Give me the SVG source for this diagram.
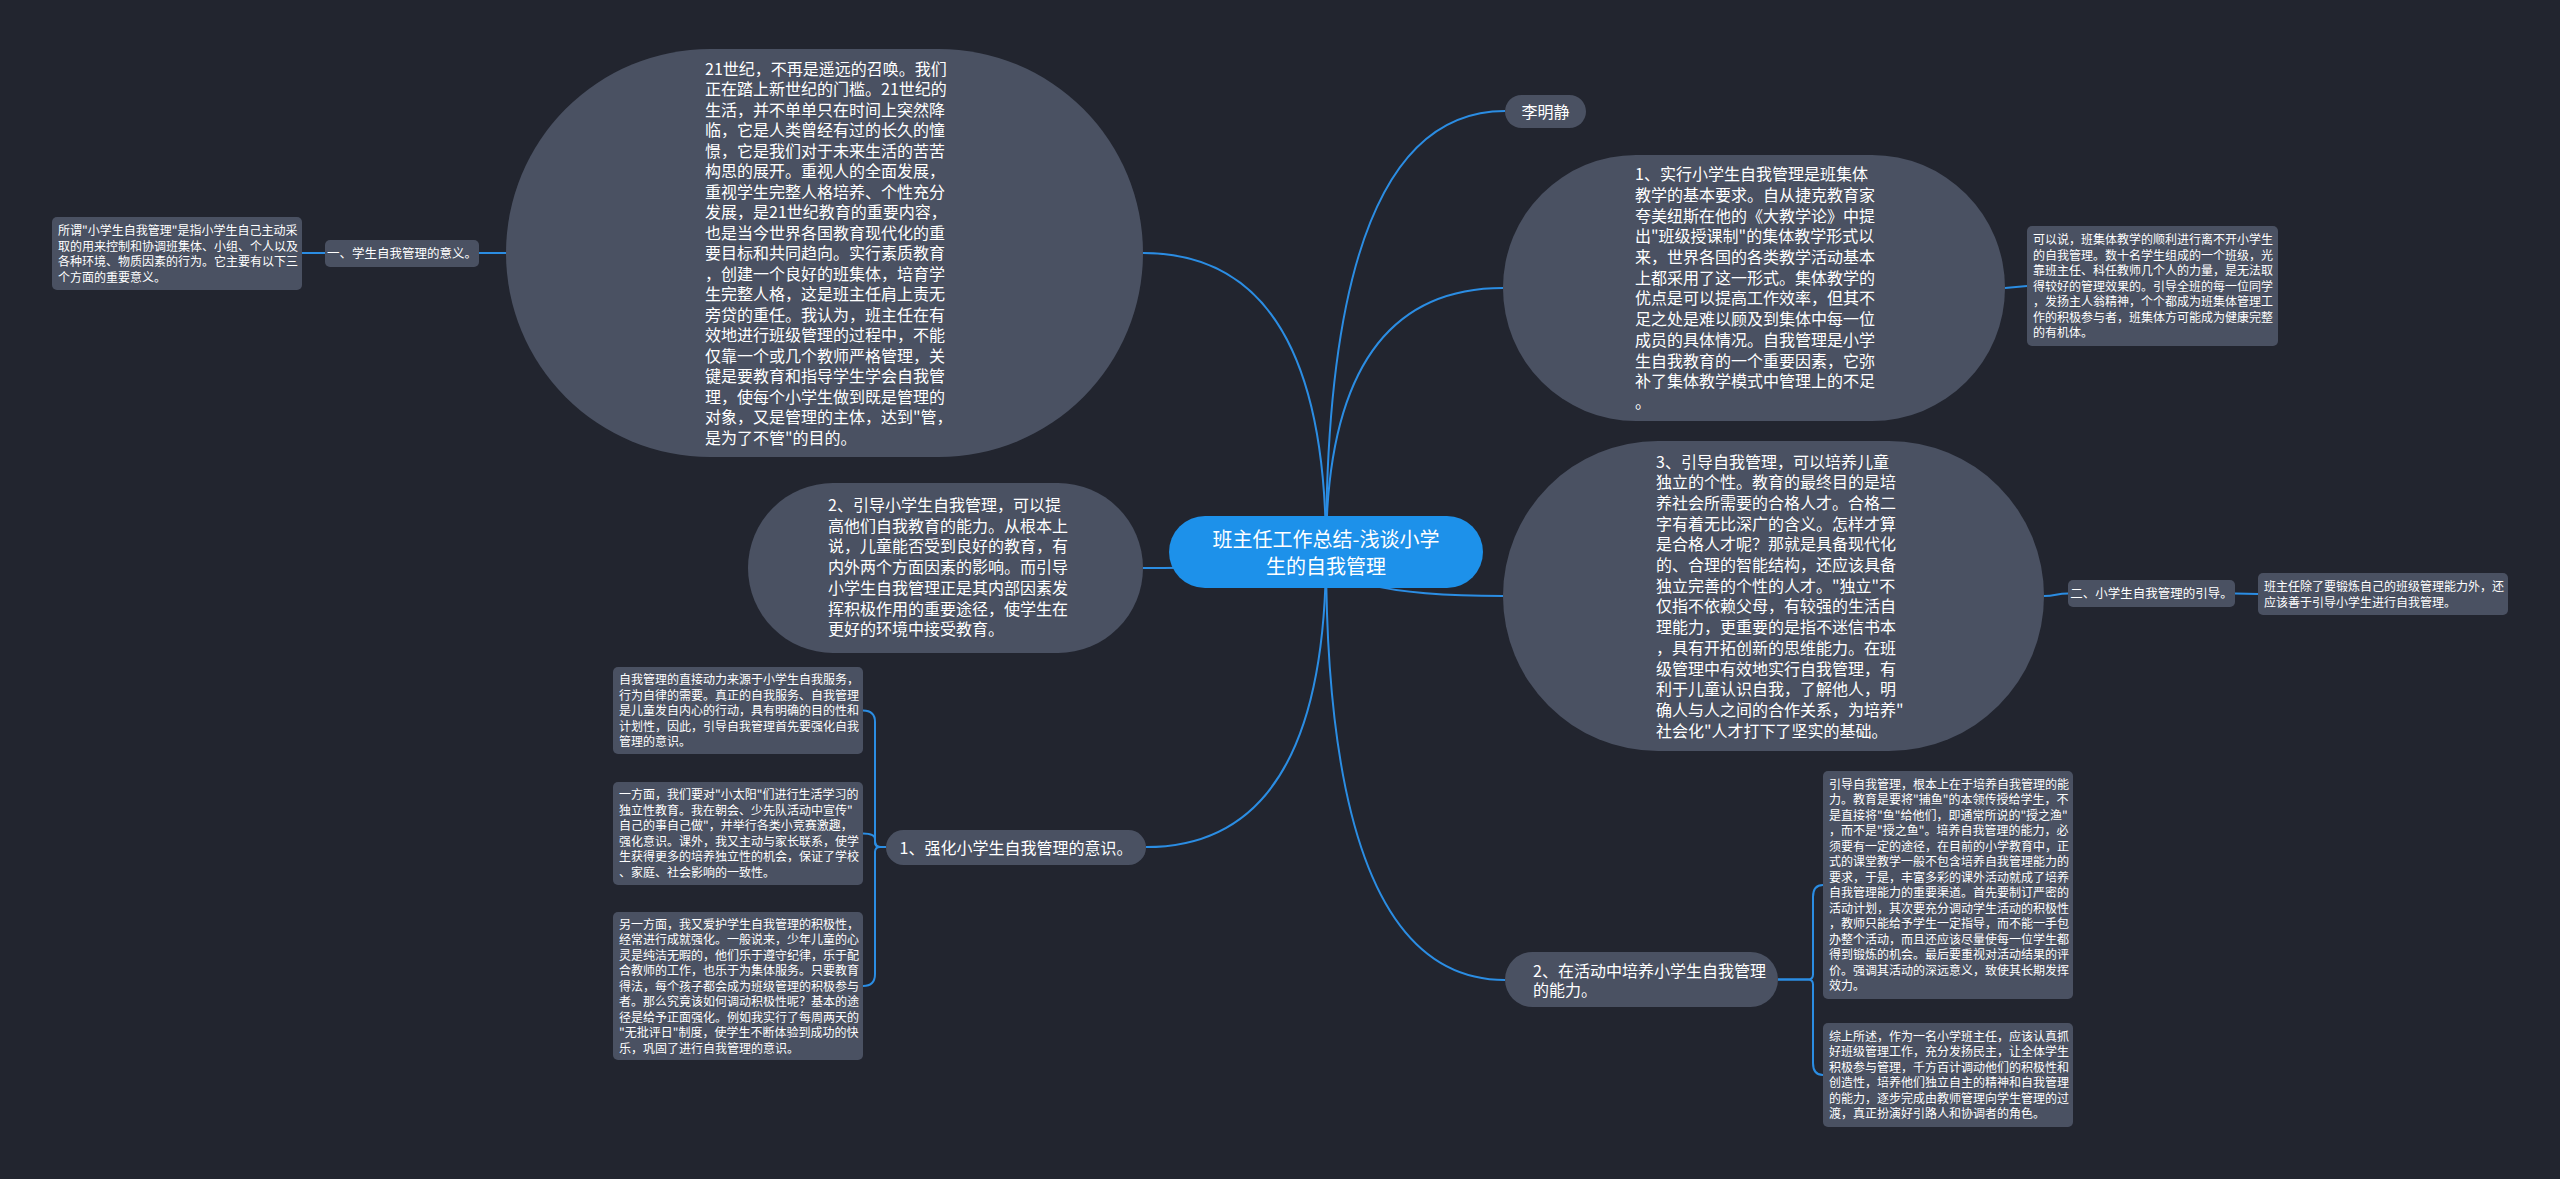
<svg xmlns="http://www.w3.org/2000/svg" width="2560" height="1179" viewBox="0 0 2560 1179">
<style>
text{font-family:"Noto Sans CJK SC","Noto Sans",sans-serif;fill:#ffffff}
.b{font-size:16px}
.s{font-size:12px}
.l{font-size:12.5px}
.c{font-size:20px}
.n{fill:#4a5162}
.conn path{fill:none;stroke:#2b8de3;stroke-width:2}
</style>
<rect width="2560" height="1179" fill="#22252f"/>
<g class="conn">
<path d="M1326,552 Q1326,111 1505,111"/>
<path d="M1326,552 Q1326,288 1503,288"/>
<path d="M1326,552 Q1326,596 1503,596"/>
<path d="M1326,552 Q1326,980 1505,980"/>
<path d="M1326,552 Q1326,847 1146,847"/>
<path d="M1326,552 Q1326,568 1143,568"/>
<path d="M1326,552 Q1326,253 1143,253"/>
<path d="M2005,288 L2027,286"/>
<path d="M2044,596 C2056,596 2056,593.5 2068,593.5"/>
<path d="M2235,593.5 L2258,594"/>
<path d="M506,253 L479,253"/>
<path d="M325,253 L302,253"/>
<path d="M886,847 H880 Q875,847 875,842 V722 Q875,710.5 863,710.5"/>
<path d="M886,847 H881 Q875,847 875,841 V839 Q875,833.5 863,833.5"/>
<path d="M886,847 H880 Q875,847 875,852 V974 Q875,986 863,986"/>
<path d="M1778,979.5 H1808 Q1813,979.5 1813,974.5 V897 Q1813,885 1823,885"/>
<path d="M1778,979.5 H1808 Q1813,979.5 1813,984.5 V1063 Q1813,1075 1823,1075"/>
</g>
<g id="center">
<rect x="1169" y="516" width="314" height="72" rx="36" fill="#1d91ea"/>
<text class="c" text-anchor="middle"><tspan x="1326" y="547">班主任工作总结-浅谈小学</tspan><tspan x="1326" y="574">生的自我管理</tspan></text>
</g>
<g id="n-lmj">
<rect class="n" x="1505" y="95" width="81" height="33" rx="16.5"/>
<text class="b" text-anchor="middle" x="1545.5" y="117.5">李明静</text>
</g>
<g id="n-21c">
<rect class="n" x="506" y="49" width="637" height="408" rx="204"/>
<text class="b"><tspan x="705" y="74.5">21世纪，不再是遥远的召唤。我们</tspan><tspan x="705" dy="20.5">正在踏上新世纪的门槛。21世纪的</tspan><tspan x="705" dy="20.5">生活，并不单单只在时间上突然降</tspan><tspan x="705" dy="20.5">临，它是人类曾经有过的长久的憧</tspan><tspan x="705" dy="20.5">憬，它是我们对于未来生活的苦苦</tspan><tspan x="705" dy="20.5">构思的展开。重视人的全面发展，</tspan><tspan x="705" dy="20.5">重视学生完整人格培养、个性充分</tspan><tspan x="705" dy="20.5">发展，是21世纪教育的重要内容，</tspan><tspan x="705" dy="20.5">也是当今世界各国教育现代化的重</tspan><tspan x="705" dy="20.5">要目标和共同趋向。实行素质教育</tspan><tspan x="705" dy="20.5">，创建一个良好的班集体，培育学</tspan><tspan x="705" dy="20.5">生完整人格，这是班主任肩上责无</tspan><tspan x="705" dy="20.5">旁贷的重任。我认为，班主任在有</tspan><tspan x="705" dy="20.5">效地进行班级管理的过程中，不能</tspan><tspan x="705" dy="20.5">仅靠一个或几个教师严格管理，关</tspan><tspan x="705" dy="20.5">键是要教育和指导学生学会自我管</tspan><tspan x="705" dy="20.5">理，使每个小学生做到既是管理的</tspan><tspan x="705" dy="20.5">对象，又是管理的主体，达到"管，</tspan><tspan x="705" dy="20.5">是为了不管"的目的。</tspan></text>
</g>
<g id="n-yi">
<rect class="n" x="325" y="240" width="154" height="27" rx="5"/>
<text class="l" text-anchor="middle" x="402" y="258">一、学生自我管理的意义。</text>
</g>
<g id="n-suowei">
<rect class="n" x="52" y="217" width="250" height="73" rx="5"/>
<text class="s"><tspan x="58" y="235">所谓"小学生自我管理"是指小学生自己主动采</tspan><tspan x="58" dy="15.5">取的用来控制和协调班集体、小组、个人以及</tspan><tspan x="58" dy="15.5">各种环境、物质因素的行为。它主要有以下三</tspan><tspan x="58" dy="15.5">个方面的重要意义。</tspan></text>
</g>
<g id="n-yindao2">
<rect class="n" x="748" y="483" width="395" height="170" rx="85"/>
<text class="b"><tspan x="828" y="511">2、引导小学生自我管理，可以提</tspan><tspan x="828" dy="20.7">高他们自我教育的能力。从根本上</tspan><tspan x="828" dy="20.7">说，儿童能否受到良好的教育，有</tspan><tspan x="828" dy="20.7">内外两个方面因素的影响。而引导</tspan><tspan x="828" dy="20.7">小学生自我管理正是其内部因素发</tspan><tspan x="828" dy="20.7">挥积极作用的重要途径，使学生在</tspan><tspan x="828" dy="20.7">更好的环境中接受教育。</tspan></text>
</g>
<g id="n-qianghua">
<rect class="n" x="886" y="830" width="260" height="35" rx="17.5"/>
<text class="b" text-anchor="middle" x="1016" y="853.5">1、强化小学生自我管理的意识。</text>
</g>
<g id="n-a">
<rect class="n" x="613" y="667" width="250" height="87" rx="5"/>
<text class="s"><tspan x="619" y="684">自我管理的直接动力来源于小学生自我服务，</tspan><tspan x="619" dy="15.5">行为自律的需要。真正的自我服务、自我管理</tspan><tspan x="619" dy="15.5">是儿童发自内心的行动，具有明确的目的性和</tspan><tspan x="619" dy="15.5">计划性，因此，引导自我管理首先要强化自我</tspan><tspan x="619" dy="15.5">管理的意识。</tspan></text>
</g>
<g id="n-b">
<rect class="n" x="613" y="782" width="250" height="103" rx="5"/>
<text class="s"><tspan x="619" y="799.4">一方面，我们要对"小太阳"们进行生活学习的</tspan><tspan x="619" dy="15.5">独立性教育。我在朝会、少先队活动中宣传"</tspan><tspan x="619" dy="15.5">自己的事自己做"，并举行各类小竞赛激趣，</tspan><tspan x="619" dy="15.5">强化意识。课外，我又主动与家长联系，使学</tspan><tspan x="619" dy="15.5">生获得更多的培养独立性的机会，保证了学校</tspan><tspan x="619" dy="15.5">、家庭、社会影响的一致性。</tspan></text>
</g>
<g id="n-c">
<rect class="n" x="613" y="912" width="250" height="148" rx="5"/>
<text class="s"><tspan x="619" y="928.6">另一方面，我又爱护学生自我管理的积极性，</tspan><tspan x="619" dy="15.5">经常进行成就强化。一般说来，少年儿童的心</tspan><tspan x="619" dy="15.5">灵是纯洁无暇的，他们乐于遵守纪律，乐于配</tspan><tspan x="619" dy="15.5">合教师的工作，也乐于为集体服务。只要教育</tspan><tspan x="619" dy="15.5">得法，每个孩子都会成为班级管理的积极参与</tspan><tspan x="619" dy="15.5">者。那么究竟该如何调动积极性呢？基本的途</tspan><tspan x="619" dy="15.5">径是给予正面强化。例如我实行了每周两天的</tspan><tspan x="619" dy="15.5">"无批评日"制度，使学生不断体验到成功的快</tspan><tspan x="619" dy="15.5">乐，巩固了进行自我管理的意识。</tspan></text>
</g>
<g id="n-shixing1">
<rect class="n" x="1503" y="155" width="502" height="266" rx="133"/>
<text class="b"><tspan x="1635" y="180.2">1、实行小学生自我管理是班集体</tspan><tspan x="1635" dy="20.7">教学的基本要求。自从捷克教育家</tspan><tspan x="1635" dy="20.7">夸美纽斯在他的《大教学论》中提</tspan><tspan x="1635" dy="20.7">出"班级授课制"的集体教学形式以</tspan><tspan x="1635" dy="20.7">来，世界各国的各类教学活动基本</tspan><tspan x="1635" dy="20.7">上都采用了这一形式。集体教学的</tspan><tspan x="1635" dy="20.7">优点是可以提高工作效率，但其不</tspan><tspan x="1635" dy="20.7">足之处是难以顾及到集体中每一位</tspan><tspan x="1635" dy="20.7">成员的具体情况。自我管理是小学</tspan><tspan x="1635" dy="20.7">生自我教育的一个重要因素，它弥</tspan><tspan x="1635" dy="20.7">补了集体教学模式中管理上的不足</tspan><tspan x="1635" dy="20.7">。</tspan></text>
</g>
<g id="n-keyishuo">
<rect class="n" x="2027" y="226" width="251" height="120" rx="5"/>
<text class="s"><tspan x="2033" y="244.1">可以说，班集体教学的顺利进行离不开小学生</tspan><tspan x="2033" dy="15.5">的自我管理。数十名学生组成的一个班级，光</tspan><tspan x="2033" dy="15.5">靠班主任、科任教师几个人的力量，是无法取</tspan><tspan x="2033" dy="15.5">得较好的管理效果的。引导全班的每一位同学</tspan><tspan x="2033" dy="15.5">，发扬主人翁精神，个个都成为班集体管理工</tspan><tspan x="2033" dy="15.5">作的积极参与者，班集体方可能成为健康完整</tspan><tspan x="2033" dy="15.5">的有机体。</tspan></text>
</g>
<g id="n-yindao3">
<rect class="n" x="1503" y="441" width="541" height="310" rx="155"/>
<text class="b"><tspan x="1656" y="467.5">3、引导自我管理，可以培养儿童</tspan><tspan x="1656" dy="20.7">独立的个性。教育的最终目的是培</tspan><tspan x="1656" dy="20.7">养社会所需要的合格人才。合格二</tspan><tspan x="1656" dy="20.7">字有着无比深广的含义。怎样才算</tspan><tspan x="1656" dy="20.7">是合格人才呢？那就是具备现代化</tspan><tspan x="1656" dy="20.7">的、合理的智能结构，还应该具备</tspan><tspan x="1656" dy="20.7">独立完善的个性的人才。"独立"不</tspan><tspan x="1656" dy="20.7">仅指不依赖父母，有较强的生活自</tspan><tspan x="1656" dy="20.7">理能力，更重要的是指不迷信书本</tspan><tspan x="1656" dy="20.7">，具有开拓创新的思维能力。在班</tspan><tspan x="1656" dy="20.7">级管理中有效地实行自我管理，有</tspan><tspan x="1656" dy="20.7">利于儿童认识自我，了解他人，明</tspan><tspan x="1656" dy="20.7">确人与人之间的合作关系，为培养"</tspan><tspan x="1656" dy="20.7">社会化"人才打下了坚实的基础。</tspan></text>
</g>
<g id="n-er">
<rect class="n" x="2068" y="580" width="167" height="27" rx="5"/>
<text class="l" text-anchor="middle" x="2151.5" y="598">二、小学生自我管理的引导。</text>
</g>
<g id="n-bzr">
<rect class="n" x="2258" y="573" width="250" height="42" rx="5"/>
<text class="s"><tspan x="2264" y="591">班主任除了要锻炼自己的班级管理能力外，还</tspan><tspan x="2264" dy="15.5">应该善于引导小学生进行自我管理。</tspan></text>
</g>
<g id="n-huodong">
<rect class="n" x="1505" y="952" width="273" height="55" rx="27.5"/>
<text class="b"><tspan x="1533" y="977">2、在活动中培养小学生自我管理</tspan><tspan x="1533" dy="19">的能力。</tspan></text>
</g>
<g id="n-d">
<rect class="n" x="1823" y="771" width="250" height="228" rx="5"/>
<text class="s"><tspan x="1829" y="788.9">引导自我管理，根本上在于培养自我管理的能</tspan><tspan x="1829" dy="15.5">力。教育是要将"捕鱼"的本领传授给学生，不</tspan><tspan x="1829" dy="15.5">是直接将"鱼"给他们，即通常所说的"授之渔"</tspan><tspan x="1829" dy="15.5">，而不是"授之鱼"。培养自我管理的能力，必</tspan><tspan x="1829" dy="15.5">须要有一定的途径，在目前的小学教育中，正</tspan><tspan x="1829" dy="15.5">式的课堂教学一般不包含培养自我管理能力的</tspan><tspan x="1829" dy="15.5">要求，于是，丰富多彩的课外活动就成了培养</tspan><tspan x="1829" dy="15.5">自我管理能力的重要渠道。首先要制订严密的</tspan><tspan x="1829" dy="15.5">活动计划，其次要充分调动学生活动的积极性</tspan><tspan x="1829" dy="15.5">，教师只能给予学生一定指导，而不能一手包</tspan><tspan x="1829" dy="15.5">办整个活动，而且还应该尽量使每一位学生都</tspan><tspan x="1829" dy="15.5">得到锻炼的机会。最后要重视对活动结果的评</tspan><tspan x="1829" dy="15.5">价。强调其活动的深远意义，致使其长期发挥</tspan><tspan x="1829" dy="15.5">效力。</tspan></text>
</g>
<g id="n-e">
<rect class="n" x="1823" y="1023" width="250" height="104" rx="5"/>
<text class="s"><tspan x="1829" y="1040.9">综上所述，作为一名小学班主任，应该认真抓</tspan><tspan x="1829" dy="15.5">好班级管理工作，充分发扬民主，让全体学生</tspan><tspan x="1829" dy="15.5">积极参与管理，千方百计调动他们的积极性和</tspan><tspan x="1829" dy="15.5">创造性，培养他们独立自主的精神和自我管理</tspan><tspan x="1829" dy="15.5">的能力，逐步完成由教师管理向学生管理的过</tspan><tspan x="1829" dy="15.5">渡，真正扮演好引路人和协调者的角色。</tspan></text>
</g>
</svg>
